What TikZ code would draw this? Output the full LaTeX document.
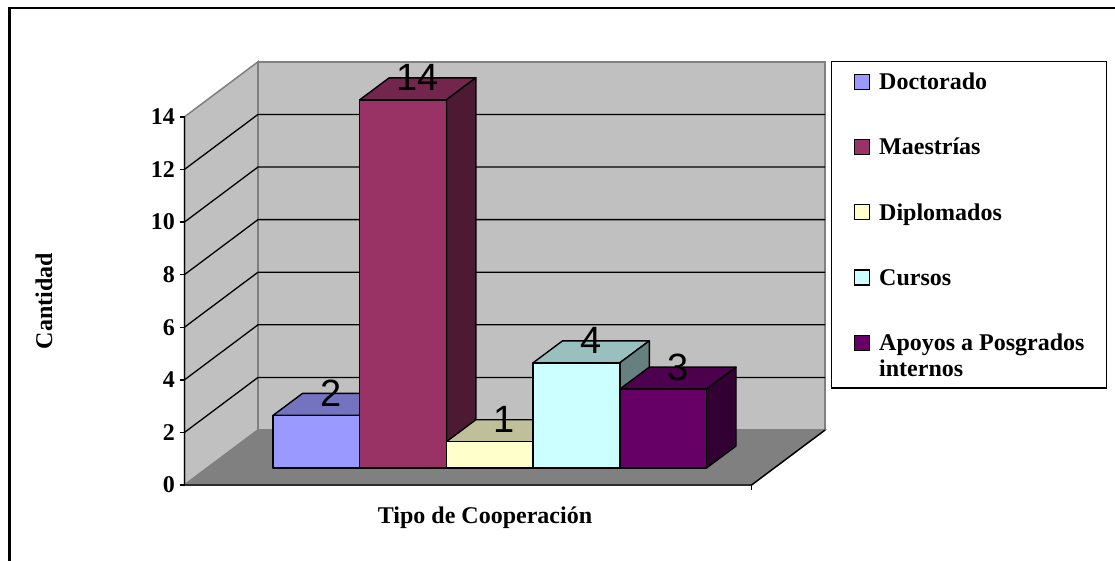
\documentclass[tikz,border=0pt]{standalone}
\usepackage{fontspec}
\setmainfont{Liberation Serif}
\newfontfamily\arialf{Liberation Sans}
\definecolor{wallc}{HTML}{C0C0C0}
\definecolor{floorc}{HTML}{808080}
\definecolor{edgec}{HTML}{808080}
\definecolor{docF}{HTML}{9999FF}\definecolor{docT}{HTML}{7373BF}\definecolor{docS}{HTML}{4D4D80}
\definecolor{maeF}{HTML}{993366}\definecolor{maeT}{HTML}{73264D}\definecolor{maeS}{HTML}{4D1A33}
\definecolor{dipF}{HTML}{FFFFCC}\definecolor{dipT}{HTML}{BFBF99}\definecolor{dipS}{HTML}{808066}
\definecolor{curF}{HTML}{CCFFFF}\definecolor{curT}{HTML}{99BFBF}\definecolor{curS}{HTML}{668080}
\definecolor{apoF}{HTML}{660066}\definecolor{apoT}{HTML}{4D004D}\definecolor{apoS}{HTML}{330033}
\begin{document}
\begin{tikzpicture}[x=1pt,y=-1pt,
  txt/.style={font=\bfseries\fontsize{24}{26}\selectfont, inner sep=0pt},
  vlabel/.style={font=\arialf\fontsize{38}{40}\selectfont, inner sep=0pt},
  wall/.style={fill=wallc, draw=edgec, line width=1.5pt},
  grid/.style={black, line width=1.3pt},
  baredge/.style={draw=black, line width=1.4pt, line join=round},
  legsq/.style={draw=black, line width=1.2pt, minimum size=15pt, inner sep=0pt}]
\useasboundingbox (0,0) rectangle (1115,560);
\fill[white] (0,0) rectangle (1115,560);
% outer frame (cut by page edges)
\draw[line width=2.2pt] (9.5,575) -- (9.5,8) -- (1130,8);
% walls and floor
\draw[wall] (184.5,116.8) -- (258,61.8) -- (258,430) -- (184.5,485) -- cycle;
\draw[wall] (258,61.8) rectangle (825,430);
\draw[fill=floorc, draw=edgec, line width=1.5pt] (184.5,485) -- (258,430) -- (825,430) -- (751.5,485) -- cycle;
% gridlines
\foreach \v in {2,4,...,12}{
  \pgfmathsetmacro\yy{485-\v*26.3}
  \pgfmathsetmacro\yb{430-\v*26.3}
  \draw[grid] (184.5,\yy) -- (258,\yb) -- (825,\yb);
}
% axes
\draw[black, line width=1.4pt] (184.5,116.8) -- (184.5,485) -- (751.5,485) -- (825,430);
\draw[black, line width=1.4pt] (751.5,485) -- (751.5,490);
\foreach \v in {0,2,...,14}{
  \pgfmathsetmacro\yy{485-\v*26.3}
  \draw[black, line width=1.4pt] (179.5,\yy) -- (184.5,\yy);
  \node[txt, anchor=east] (t\v) at (175,\yy) {\v};
}
% bars
\foreach \xl/\v/\c [count=\i] in {273/2/doc, 359.7/14/mae, 446.4/1/dip, 533.1/4/cur, 619.8/3/apo}{
  \pgfmathsetmacro\h{468-\v*26.3}
  \pgfmathsetmacro\xr{\xl+86.7}
  \draw[baredge, fill=\c T] (\xl,\h) -- (\xr,\h) -- (\xr+29.5,\h-22) -- (\xl+29.5,\h-22) -- cycle;
  \draw[baredge, fill=\c S] (\xr,468) -- (\xr,\h) -- (\xr+29.5,\h-22) -- (\xr+29.5,446) -- cycle;
  \draw[baredge, fill=\c F] (\xl,468) rectangle (\xr,\h);
  \node[vlabel, anchor=base] (val\i) at (\xl+58.1,\h-9) {\v};
}
% axis titles
\node[txt, rotate=90] (ytitle) at (44,301) {Cantidad};
\node[txt] (xtitle) at (485,518) {Tipo de Cooperación};
% legend
\draw[black, line width=1.5pt] (831.7,61.7) rectangle (1106.7,388);
\foreach \c/\t/\y [count=\i] in {doc/Doctorado/81.7, mae/Maestrías/146.9, dip/Diplomados/212.1, cur/Cursos/277.4}{
  \node[legsq, fill=\c F] (ls\i) at (862.3,\y) {};
  \node[txt, anchor=base west] (lt\i) at (879,\y+8) {\t};
}
\node[legsq, fill=apoF] (ls5) at (862.3,342.6) {};
\node[txt, anchor=base west] (lt5) at (879,350.6) {Apoyos a Posgrados};
\node[txt, anchor=base west] (lt6) at (879,376) {internos};
\end{tikzpicture}
\end{document}
